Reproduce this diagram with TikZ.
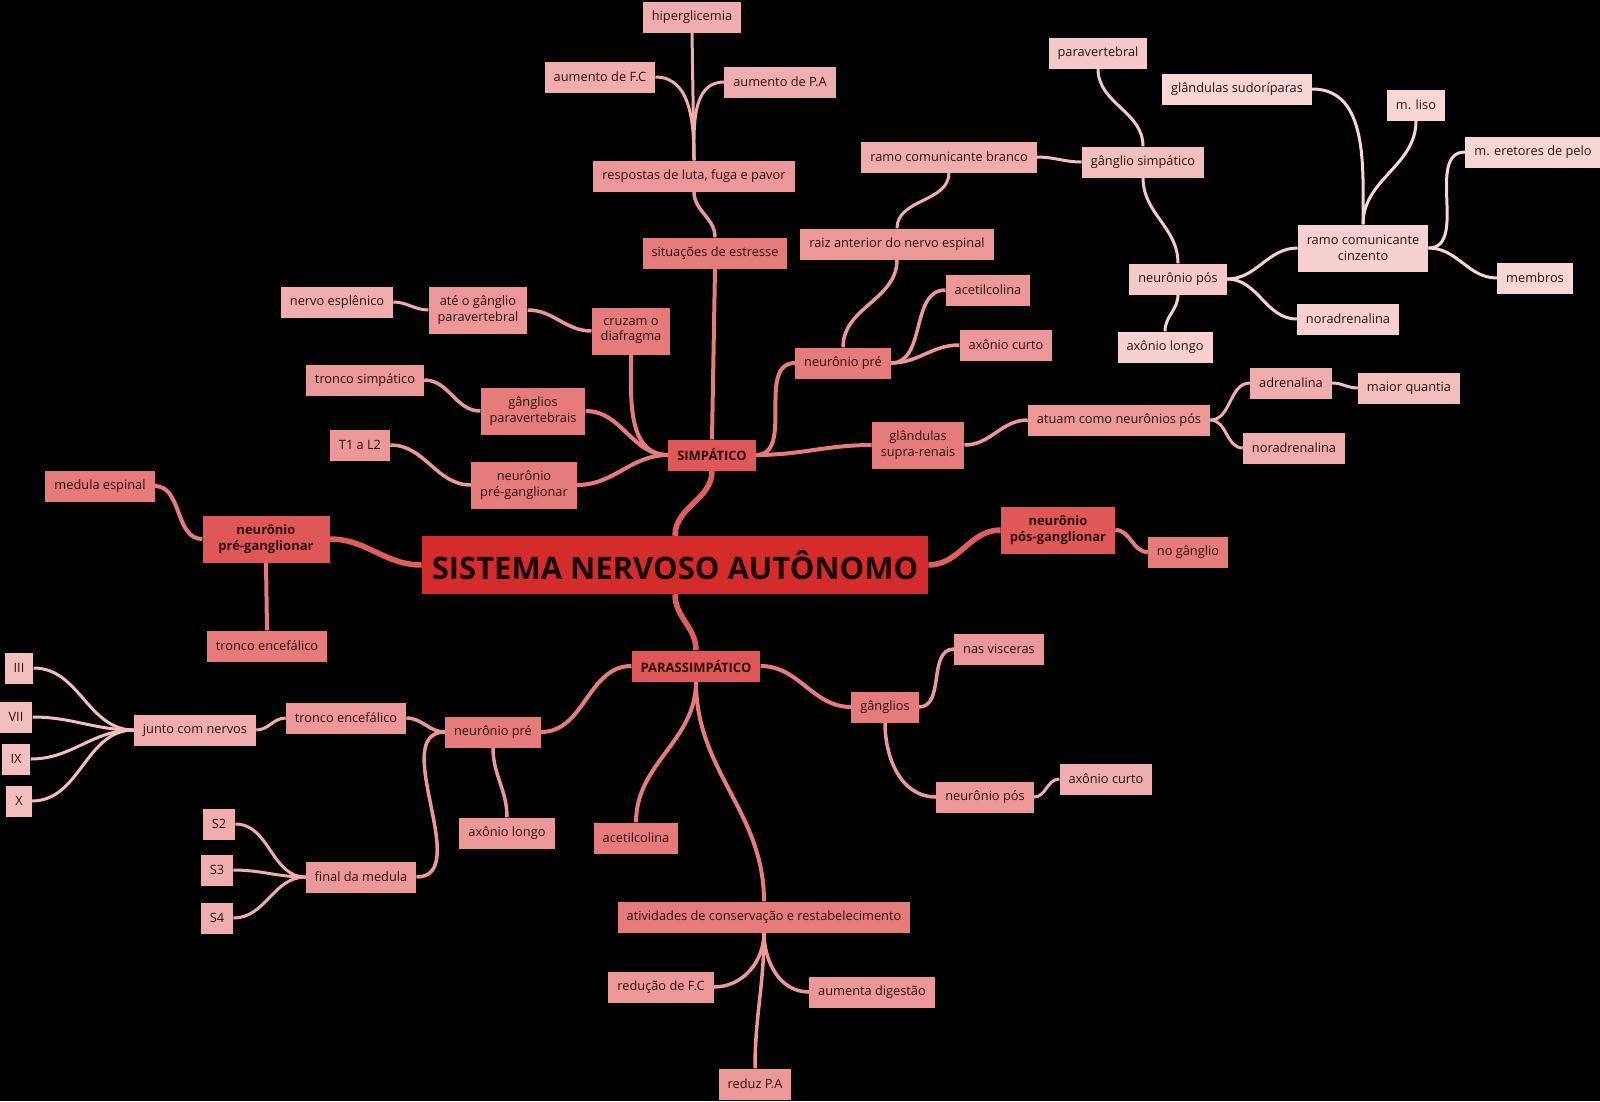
\documentclass[tikz,border=0pt]{standalone}
\usepackage{fontspec}
\setmainfont{Open Sans}
\definecolor{c0}{HTML}{D42B2B}
\definecolor{c1}{HTML}{E05757}
\definecolor{c2}{HTML}{E67B7B}
\definecolor{c3}{HTML}{EC9898}
\definecolor{c4}{HTML}{F0ADAD}
\definecolor{c5}{HTML}{F3BEBE}
\definecolor{c6}{HTML}{F5C9C9}
\definecolor{c7}{HTML}{F7D1D1}
\definecolor{c8}{HTML}{F8D6D6}
\definecolor{txt}{HTML}{2A1212}
\pgfdeclarelayer{bg}
\pgfdeclarelayer{conn}
\pgfsetlayers{bg,conn,main}
\tikzset{
  box/.style={rectangle, draw=none, inner xsep=9pt, inner ysep=2pt, minimum height=31pt,
    font=\fontsize{12.8}{15.8}\selectfont, text=txt, align=center},
  twol/.style={minimum height=47pt},
  bf/.style={font=\fontsize{13}{15.8}\selectfont\bfseries},
  d0/.style={box, fill=c0, minimum height=58pt, inner xsep=10pt, font=\fontsize{31}{36}\selectfont\bfseries, text=black!90!red},
  d1/.style={box, fill=c1, bf},
  d2/.style={box, fill=c2},
  d3/.style={box, fill=c3},
  d4/.style={box, fill=c4},
  d5/.style={box, fill=c5},
  d6/.style={box, fill=c6},
  d7/.style={box, fill=c7},
  d8/.style={box, fill=c8},
  k1/.style={draw=c1!80!c2, line width=5.5pt},
  k2/.style={draw=c2, line width=4pt},
  k3/.style={draw=c3, line width=3.5pt},
  k4/.style={draw=c4, line width=3pt},
  k5/.style={draw=c5, line width=3pt},
  k6/.style={draw=c6, line width=3pt},
  k7/.style={draw=c7, line width=3pt},
  k8/.style={draw=c8, line width=3pt},
}
\begin{document}
\begin{tikzpicture}[x=1pt,y=-1pt]
\begin{pgfonlayer}{bg}
\fill[black] (0,0) rectangle (1600,1101);
\end{pgfonlayer}
\useasboundingbox (0,0) rectangle (1600,1101);

% level 0/1
\node[d0] (main) at (675,565) {SISTEMA NERVOSO AUTÔNOMO};
\node[d1] (simp) at (712,455) {SIMPÁTICO};
\node[d1] (paras) at (696,666) {PARASSIMPÁTICO};
\node[d1,twol,minimum width=127pt] (npgL) at (266,539) {neurônio\\pré-ganglionar};
\node[d1,twol] (npgR) at (1058,530) {neurônio\\pós-ganglionar};

% simpatico branch
\node[d2] (sit) at (715,253) {situações de estresse};
\node[d3] (resp) at (694,176) {respostas de luta, fuga e pavor};
\node[d4] (hiper) at (692,17) {hiperglicemia};
\node[d4] (fc) at (600,77) {aumento de F.C};
\node[d4] (pa) at (780,82) {aumento de P.A};
\node[d2,twol] (cruz) at (631,331) {cruzam o\\diafragma};
\node[d3,twol] (ate) at (478,310) {até o gânglio\\paravertebral};
\node[d4] (nervo) at (337,302) {nervo esplênico};
\node[d2,twol] (gpv) at (533,411) {gânglios\\paravertebrais};
\node[d3] (tsimp) at (365,380) {tronco simpático};
\node[d2,twol] (npgS) at (524,485) {neurônio\\pré-ganglionar};
\node[d3] (t1) at (360,445) {T1 a L2};
\node[d2] (npre) at (843,363) {neurônio pré};
\node[d3] (raiz) at (897,244) {raiz anterior do nervo espinal};
\node[d4] (rcb) at (949,157) {ramo comunicante branco};
\node[d5] (gsimp) at (1143,162) {gânglio simpático};
\node[d6] (parav) at (1098,53) {paravertebral};
\node[d6] (npos) at (1178,279) {neurônio pós};
\node[d7] (along) at (1165,347) {axônio longo};
\node[d7,twol] (rcc) at (1363,248) {ramo comunicante\\cinzento};
\node[d7] (nora1) at (1348,319) {noradrenalina};
\node[d8] (glsud) at (1237,89) {glândulas sudoríparas};
\node[d8] (mliso) at (1416,105) {m. liso};
\node[d8] (mere) at (1533,152) {m. eretores de pelo};
\node[d8] (memb) at (1535,278) {membros};
\node[d3] (acet) at (988,290) {acetilcolina};
\node[d3] (acurto) at (1006,345) {axônio curto};
\node[d2,twol] (glsr) at (918,445) {glândulas\\supra-renais};
\node[d3] (atuam) at (1119,420) {atuam como neurônios pós};
\node[d4] (adren) at (1291,383) {adrenalina};
\node[d5] (maior) at (1409,388) {maior quantia};
\node[d4] (nora2) at (1294,448) {noradrenalina};

% pos-ganglionar
\node[d2] (nogang) at (1188,552) {no gânglio};

% pre-ganglionar left
\node[d2] (medula) at (100,486) {medula espinal};
\node[d2] (troncoL) at (267,646) {tronco encefálico};

% parassimpatico branch
\node[d2] (nprP) at (493,732) {neurônio pré};
\node[d3] (troncoP) at (346,718) {tronco encefálico};
\node[d4] (junto) at (195,730) {junto com nervos};
\node[d5] (n3) at (19,668) {III};
\node[d5] (n7) at (16,717) {VII};
\node[d5] (n9) at (16,759) {IX};
\node[d5] (n10) at (19,801) {X};
\node[d3] (final) at (361,877) {final da medula};
\node[d4] (s2) at (219,824) {S2};
\node[d4] (s3) at (217,870) {S3};
\node[d4] (s4) at (217,918) {S4};
\node[d3] (alongP) at (507,833) {axônio longo};
\node[d2] (gangP) at (885,707) {gânglios};
\node[d3] (nasv) at (999,649) {nas visceras};
\node[d3] (nposP) at (985,797) {neurônio pós};
\node[d4] (acurtoP) at (1106,779) {axônio curto};
\node[d2] (acetP) at (636,838) {acetilcolina};
\node[d2] (ativ) at (764,917) {atividades de conservação e restabelecimento};
\node[d3] (reducao) at (661,987) {redução de F.C};
\node[d3] (aumenta) at (872,992) {aumenta digestão};
\node[d3] (reduz) at (755,1084) {reduz P.A};

\begin{pgfonlayer}{conn}
% level 1
\draw[k1] (main.north) to[out=90,in=-90] (simp.south);
\draw[k1] (main.south) to[out=-90,in=90] (paras.north);
\draw[k1] (main.west) to[out=180,in=0] (npgL.east);
\draw[k1] (main.east) to[out=0,in=180] (npgR.west);
% simpatico
\draw[k2] (simp.north) -- (sit.south);
\draw[k2] (simp.west) to[out=180,in=-90] (cruz.south);
\draw[k2] (simp.west) to[out=180,in=0] (gpv.east);
\draw[k2] (simp.west) to[out=180,in=0] (npgS.east);
\draw[k2] (simp.east) to[out=0,in=180] (npre.west);
\draw[k2] (simp.east) to[out=0,in=180] (glsr.west);
\draw[k3] (sit.north) to[out=90,in=-90] (resp.south);
\draw[k4] (resp.north) -- (hiper.south);
\draw[k4] (resp.north) to[out=90,in=0] (fc.east);
\draw[k4] (resp.north) to[out=90,in=180] (pa.west);
\draw[k3] (cruz.west) to[out=180,in=0] (ate.east);
\draw[k4] (ate.west) to[out=180,in=0] (nervo.east);
\draw[k3] (gpv.west) to[out=180,in=0] (tsimp.east);
\draw[k3] (npgS.west) to[out=180,in=0] (t1.east);
\draw[k3] (npre.north) to[out=90,in=-90] (raiz.south);
\draw[k3] (npre.east) to[out=0,in=180] (acet.west);
\draw[k3] (npre.east) to[out=0,in=180] (acurto.west);
\draw[k4] (raiz.north) to[out=90,in=-90] (rcb.south);
\draw[k5] (rcb.east) to[out=0,in=180] (gsimp.west);
\draw[k6] (gsimp.north) to[out=90,in=-90] (parav.south);
\draw[k6] (gsimp.south) to[out=-90,in=90] (npos.north);
\draw[k7] (npos.south) to[out=-90,in=90] (along.north);
\draw[k7] (npos.east) to[out=0,in=180] (rcc.west);
\draw[k7] (npos.east) to[out=0,in=180] (nora1.west);
\draw[k8] (rcc.north) to[out=90,in=0] (glsud.east);
\draw[k8] (rcc.north) to[out=90,in=-90] (mliso.south);
\draw[k8] (rcc.east) to[out=0,in=180] (mere.west);
\draw[k8] (rcc.east) to[out=0,in=180] (memb.west);
\draw[k3] (glsr.east) to[out=0,in=180] (atuam.west);
\draw[k4] (atuam.east) to[out=0,in=180] (adren.west);
\draw[k4] (atuam.east) to[out=0,in=180] (nora2.west);
\draw[k5] (adren.east) to[out=0,in=180] (maior.west);
% pos-ganglionar
\draw[k2] (npgR.east) to[out=0,in=180] (nogang.west);
% pre-ganglionar left
\draw[k2] (npgL.west) to[out=180,in=0] (medula.east);
\draw[k2] (npgL.south) -- (troncoL.north);
% parassimpatico
\draw[k2] (paras.west) to[out=180,in=0] (nprP.east);
\draw[k2] (paras.east) to[out=0,in=180] (gangP.west);
\draw[k2] (paras.south) to[out=-90,in=90] (acetP.north);
\draw[k2] (paras.south) to[out=-90,in=90] (ativ.north);
\draw[k3] (nprP.west) to[out=180,in=0] (troncoP.east);
\draw[k3] (nprP.west) to[out=180,in=0] (final.east);
\draw[k3] (nprP.south) to[out=-90,in=90] (alongP.north);
\draw[k4] (troncoP.west) to[out=180,in=0] (junto.east);
\draw[k5] (junto.west) to[out=180,in=0] (n3.east);
\draw[k5] (junto.west) to[out=180,in=0] (n7.east);
\draw[k5] (junto.west) to[out=180,in=0] (n9.east);
\draw[k5] (junto.west) to[out=180,in=0] (n10.east);
\draw[k4] (final.west) to[out=180,in=0] (s2.east);
\draw[k4] (final.west) to[out=180,in=0] (s3.east);
\draw[k4] (final.west) to[out=180,in=0] (s4.east);
\draw[k3] (gangP.east) to[out=0,in=180] (nasv.west);
\draw[k3] (gangP.south) to[out=-90,in=180] (nposP.west);
\draw[k4] (nposP.east) to[out=0,in=180] (acurtoP.west);
\draw[k3] (ativ.south) to[out=-90,in=0] (reducao.east);
\draw[k3] (ativ.south) to[out=-90,in=180] (aumenta.west);
\draw[k3] (ativ.south) to[out=-90,in=90] (reduz.north);
\end{pgfonlayer}
\end{tikzpicture}
\end{document}
